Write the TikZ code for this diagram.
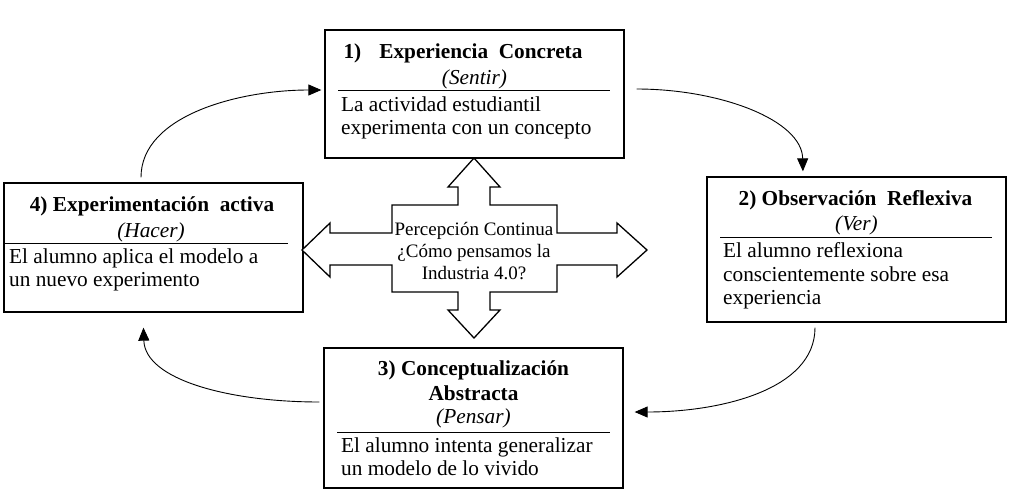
\documentclass[tikz,border=0pt]{standalone}
\usepackage{fontspec}
\setmainfont{Liberation Serif}
\usetikzlibrary{arrows.meta,calc}
\begin{document}
\begin{tikzpicture}[x=1pt,y=-1pt,
  box/.style={draw,line width=1.3pt,inner sep=0pt,fill=white},
  ttl/.style={anchor=base,inner sep=0pt,font=\fontsize{21.3}{23.5}\selectfont\bfseries},
  sub/.style={anchor=base,inner sep=0pt,font=\fontsize{21.3}{23.5}\selectfont\itshape},
  bod/.style={anchor=base west,inner sep=0pt,font=\fontsize{21.3}{23.5}\selectfont},
  ctr/.style={anchor=base,inner sep=0pt,font=\fontsize{19}{21}\selectfont},
  sep/.style={line width=1pt},
  arr/.style={line width=0.9pt,-{Triangle[length=13pt,width=11pt]}}]
\useasboundingbox[fill=white] (0,0) rectangle (1013,501);

% boxes
\node[box,minimum width=299pt,minimum height=128pt] (b1) at (474.5,94) {};
\node[box,minimum width=299pt,minimum height=129pt] (b4) at (153.5,247.5) {};
\node[box,minimum width=299pt,minimum height=145pt] (b2) at (856.5,249.5) {};
\node[box,minimum width=299pt,minimum height=140pt] (b3) at (473.5,418) {};

% box 1
\node[ttl] (t1) at (463,58) {1)\hspace{18pt}Experiencia\ \ Concreta};
\node[sub] (s1) at (474.5,84) {(Sentir)};
\draw[sep] (338,90) -- (610,90);
\node[bod] (d1a) at (341,111) {La actividad estudiantil};
\node[bod] (d1b) at (341,134) {experimenta con un concepto};

% box 4
\node[ttl] (t4) at (152,211) {4) Experimentación\ \ activa};
\node[sub] (s4) at (151,237) {(Hacer)};
\draw[sep] (5,243) -- (288,243);
\node[bod] (d4a) at (9,263) {El alumno aplica el modelo a};
\node[bod] (d4b) at (9,286) {un nuevo experimento};

% box 2
\node[ttl] (t2) at (855.5,205) {2) Observación\ \ Reflexiva};
\node[sub] (s2) at (856.5,230) {(Ver)};
\draw[sep] (720,237) -- (992,237);
\node[bod] (d2a) at (723,257) {El alumno reflexiona};
\node[bod] (d2b) at (723,281) {conscientemente sobre esa};
\node[bod] (d2c) at (723,304) {experiencia};

% box 3
\node[ttl] (t3a) at (473.5,375) {3) Conceptualización};
\node[ttl] (t3b) at (473.5,400) {Abstracta};
\node[sub] (s3) at (473.5,423) {(Pensar)};
\draw[sep] (337,432) -- (610,432);
\node[bod] (d3a) at (341,452) {El alumno intenta generalizar};
\node[bod] (d3b) at (341,475) {un modelo de lo vivido};

% four-way arrow
\draw[line width=1.3pt,fill=white,line join=miter]
  (474,158) -- (500,187) -- (490,187) -- (490,205) -- (557,205) -- (557,233)
  -- (617,233) -- (617,223) -- (647,250) -- (617,277) -- (617,265) -- (557,265)
  -- (557,292) -- (490,292) -- (490,310) -- (500,310) -- (474,338) -- (448,310)
  -- (458,310) -- (458,292) -- (392,292) -- (392,265) -- (330,265) -- (330,277)
  -- (302,250) -- (330,223) -- (330,233) -- (392,233) -- (392,205) -- (458,205)
  -- (458,187) -- (448,187) -- cycle;
\node[ctr] (c1) at (474,235) {Percepción Continua};
\node[ctr] (c2) at (474,257) {¿Cómo pensamos la};
\node[ctr] (c3) at (474,279) {Industria 4.0?};

% cycle arrows
\draw[arr,shorten <=5pt,shorten >=3pt] ([xshift=-12.5pt]b4.north) .. controls (141,115) and (240,90) .. (b1.west |- 0,90);
\draw[arr,shorten <=12pt,shorten >=5pt] (b1.east |- 0,89) .. controls (720,89) and (802,120) .. ([xshift=-53.5pt]b2.north);
\draw[arr,shorten <=5pt,shorten >=11pt] ([xshift=-41.5pt]b2.south) .. controls (815,390) and (720,412) .. (b3.east |- 0,412);
\draw[arr,shorten <=4pt,shorten >=15pt] (b3.west |- 0,402) .. controls (230,402) and (145,380) .. ([xshift=-10.5pt]b4.south);
\end{tikzpicture}
\end{document}
